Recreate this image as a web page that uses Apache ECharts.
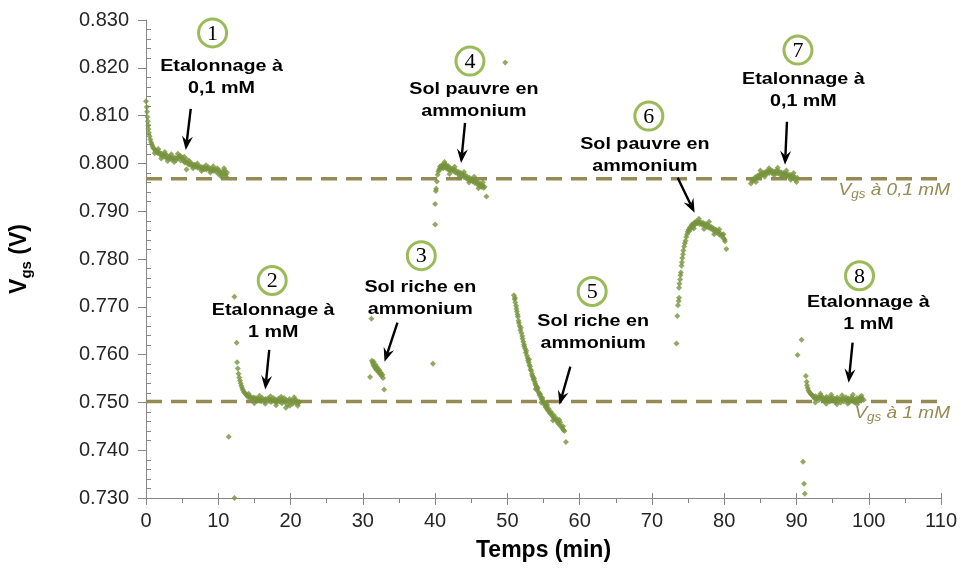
<!DOCTYPE html>
<html>
<head>
<meta charset="utf-8">
<script src="https://cdn.jsdelivr.net/npm/echarts@6/dist/echarts.min.js"></script>
<style>
  html, body { margin: 0; padding: 0; background: #ffffff; }
  #chart { width: 960px; height: 572px; }
</style>
</head>
<body>
<div id="chart"></div>
<script>
// Vgs (V) versus time (min), one array per measurement phase: [temps, vgs]
const etalonnage01A = [
  [0.0,0.8130],[0.1,0.8118],[0.15,0.8108],[0.2,0.8097],[0.25,0.8088],[0.3,0.8080],[0.35,0.8072],[0.4,0.8064],
  [0.5,0.8057],[0.6,0.8050],[0.7,0.8044],[0.8,0.8040],[0.9,0.8036],[1.0,0.8032],[1.15,0.8030],[1.3,0.8026],
  [1.45,0.8027],[1.6,0.8022],[1.75,0.8024],[1.9,0.8019],[2.05,0.8021],[2.2,0.8016],[2.35,0.8018],[2.5,0.8014],
  [2.65,0.8019],[2.8,0.8012],[2.95,0.8016],[3.1,0.8010],[3.25,0.8014],[3.4,0.8011],[3.55,0.8008],[3.7,0.8013],
  [3.85,0.8009],[4.0,0.8012],[4.15,0.8007],[4.3,0.8010],[4.45,0.8013],[4.6,0.8015],[4.75,0.8016],[4.9,0.8013],
  [5.05,0.8010],[5.2,0.8006],[5.35,0.8002],[5.5,0.8003],[5.6,0.7987],[5.65,0.8008],[5.8,0.8000],[5.95,0.7997],
  [6.1,0.8001],[6.25,0.7996],[6.4,0.7999],[6.55,0.7994],[6.7,0.7997],[6.85,0.7993],[7.0,0.7995],[7.15,0.7991],
  [7.3,0.7994],[7.45,0.7990],[7.6,0.7993],[7.75,0.7989],[7.9,0.7992],[8.05,0.7988],[8.2,0.7991],[8.35,0.7987],
  [8.5,0.7990],[8.65,0.7992],[8.8,0.7986],[8.95,0.7989],[9.1,0.7985],[9.25,0.7988],[9.4,0.7984],[9.55,0.7987],
  [9.7,0.7983],[9.85,0.7990],[10.0,0.7978],[10.15,0.7985],[10.3,0.7980],[10.45,0.7976],[10.6,0.7982],[10.75,0.7978],
  [10.9,0.7985],[11.05,0.7977],[11.2,0.7981],
  [1.2,0.8021],[1.7,0.8030],[2.1,0.8010],[2.6,0.8024],[3.0,0.8005],[3.5,0.8019],[3.9,0.8003],[4.4,0.8020],
  [4.8,0.8006],[5.3,0.8014],[6.0,0.8005],[6.5,0.7990],[7.1,0.8000],[7.7,0.7984],[8.3,0.7996],[8.9,0.7981],
  [9.3,0.7994],[9.9,0.7986],[10.4,0.7972],[10.8,0.7990],[11.1,0.7972]
];
const etalonnage1A = [
  [11.45,0.7428],[12.24,0.7300],[12.24,0.7721],[12.55,0.7625],[12.6,0.7584],[12.7,0.7571],[12.8,0.7560],[12.9,0.7552],
  [13.0,0.7546],[13.1,0.7540],[13.2,0.7535],[13.3,0.7530],[13.4,0.7526],[13.55,0.7522],[13.7,0.7519],[13.85,0.7516],
  [14.0,0.7514],[14.15,0.7511],[14.3,0.7513],[14.45,0.7509],[14.6,0.7511],[14.75,0.7507],[14.9,0.7510],[15.05,0.7506],
  [15.2,0.7509],[15.35,0.7505],[15.5,0.7508],[15.65,0.7504],[15.8,0.7507],[15.95,0.7503],[16.1,0.7509],[16.25,0.7505],
  [16.4,0.7502],[16.55,0.7507],[16.7,0.7504],[16.85,0.7508],[17.0,0.7503],[17.15,0.7506],[17.3,0.7501],[17.45,0.7505],
  [17.6,0.7509],[17.75,0.7503],[17.9,0.7506],[18.05,0.7500],[18.2,0.7504],[18.35,0.7508],[18.5,0.7502],[18.65,0.7506],
  [18.8,0.7498],[18.95,0.7504],[19.1,0.7509],[19.25,0.7501],[19.35,0.7489],[19.4,0.7505],[19.55,0.7495],[19.7,0.7503],
  [19.85,0.7507],[20.0,0.7500],[20.15,0.7504],[20.3,0.7497],[20.45,0.7502],[20.6,0.7506],[20.75,0.7499],[20.9,0.7503],
  [21.05,0.7498],[21.2,0.7501],
  [14.2,0.7518],[15.0,0.7498],[15.7,0.7514],[16.5,0.7497],[17.2,0.7513],[18.0,0.7494],[18.7,0.7512],[19.9,0.7493],
  [20.5,0.7511],[21.0,0.7493]
];
const solRiche1 = [
  [31.0,0.7553],[31.2,0.7675],[31.25,0.7587],[31.35,0.7583],[31.45,0.7578],[31.5,0.7585],[31.6,0.7575],[31.7,0.7572],
  [31.75,0.7579],[31.85,0.7569],[31.95,0.7574],[32.0,0.7566],[32.1,0.7570],[32.2,0.7563],[32.3,0.7567],[32.4,0.7559],
  [32.5,0.7562],[32.6,0.7555],[32.7,0.7558],[32.8,0.7551],[32.95,0.7527],[39.7,0.7581]
];
const solPauvre1 = [
  [40.0,0.7872],[40.0,0.7915],[40.1,0.7942],[40.15,0.7947],[40.25,0.7962],[40.35,0.7976],[40.45,0.7983],[40.55,0.7987],
  [40.65,0.7993],[40.75,0.7989],[40.85,0.7995],[40.95,0.7991],[41.05,0.7997],[41.15,0.7990],[41.25,0.7994],[41.35,0.7998],
  [41.45,0.7991],[41.55,0.7996],[41.65,0.7992],[41.75,0.7988],[41.85,0.7994],[41.95,0.7986],[42.05,0.7990],[42.2,0.7985],
  [42.35,0.7989],[42.5,0.7984],[42.65,0.7987],[42.8,0.7981],[42.95,0.7984],[43.1,0.7979],[43.25,0.7982],[43.4,0.7976],
  [43.55,0.7980],[43.7,0.7974],[43.85,0.7977],[44.0,0.7971],[44.15,0.7975],[44.3,0.7969],[44.45,0.7972],[44.6,0.7966],
  [44.75,0.7970],[44.9,0.7964],[45.05,0.7967],[45.2,0.7962],[45.35,0.7965],[45.5,0.7959],[45.65,0.7962],[45.8,0.7957],
  [45.95,0.7960],[46.1,0.7954],[46.25,0.7957],[46.4,0.7951],[46.55,0.7954],[46.7,0.7949],[46.85,0.7951],[47.1,0.7931],
  [41.3,0.8003],[42.0,0.7978],[42.7,0.7993],[43.3,0.7970],[44.0,0.7982],[44.7,0.7960],[45.4,0.7972],[46.0,0.7948],
  [46.6,0.7960],[49.7,0.8211]
];
const solRiche2 = [
  [50.9,0.7724],[51.0,0.7716],[51.05,0.7719],[51.1,0.7709],[51.2,0.7702],[51.25,0.7696],[51.3,0.7690],[51.4,0.7684],
  [51.45,0.7679],[51.55,0.7671],[51.6,0.7666],[51.7,0.7660],[51.8,0.7651],[51.85,0.7656],[51.95,0.7645],[52.05,0.7639],
  [52.1,0.7633],[52.2,0.7627],[52.3,0.7621],[52.35,0.7617],[52.45,0.7612],[52.55,0.7604],[52.6,0.7608],[52.7,0.7598],
  [52.8,0.7593],[52.85,0.7588],[52.95,0.7584],[53.05,0.7578],[53.15,0.7575],[53.2,0.7569],[53.3,0.7566],[53.4,0.7560],
  [53.45,0.7556],[53.55,0.7553],[53.6,0.7548],[53.7,0.7550],[53.8,0.7543],[53.85,0.7539],[53.95,0.7536],[54.05,0.7532],
  [54.1,0.7527],[54.2,0.7530],[54.3,0.7522],[54.4,0.7519],[54.45,0.7515],[54.55,0.7517],[54.65,0.7510],[54.75,0.7506],
  [54.85,0.7509],[54.95,0.7502],[55.05,0.7498],[55.1,0.7501],[55.2,0.7494],[55.3,0.7490],[55.4,0.7493],[55.5,0.7486],
  [55.6,0.7483],[55.7,0.7487],[55.85,0.7479],[55.95,0.7476],[56.05,0.7480],[56.2,0.7472],[56.35,0.7469],[56.45,0.7473],
  [56.6,0.7465],[56.75,0.7462],[56.85,0.7466],[57.0,0.7457],[57.15,0.7454],[57.3,0.7458],[57.45,0.7449],[57.6,0.7446],
  [57.75,0.7442],[57.9,0.7440],[58.1,0.7417],
  [53.0,0.7590],[53.9,0.7528],[54.7,0.7500],[55.5,0.7495],[56.3,0.7462],[57.2,0.7463],[57.7,0.7450]
];
const solPauvre2 = [
  [73.4,0.7623],[73.5,0.7681],[73.6,0.7703],[73.7,0.7712],[73.75,0.7719],[73.75,0.7740],[73.8,0.7748],[73.9,0.7757],
  [73.95,0.7766],[74.0,0.7772],[74.1,0.7786],[74.15,0.7793],[74.2,0.7802],[74.3,0.7810],[74.35,0.7818],[74.45,0.7826],
  [74.55,0.7833],[74.65,0.7838],[74.75,0.7846],[74.85,0.7852],[74.95,0.7857],[75.05,0.7861],[75.15,0.7858],[75.25,0.7866],
  [75.35,0.7863],[75.45,0.7869],[75.55,0.7872],[75.65,0.7867],[75.75,0.7874],[75.85,0.7871],[75.95,0.7877],[76.05,0.7873],
  [76.15,0.7879],[76.3,0.7875],[76.45,0.7878],[76.6,0.7873],[76.75,0.7877],[76.9,0.7872],[77.05,0.7876],[77.2,0.7870],
  [77.35,0.7874],[77.5,0.7868],[77.65,0.7872],[77.8,0.7866],[77.95,0.7869],[78.1,0.7864],[78.25,0.7867],[78.4,0.7861],
  [78.55,0.7864],[78.7,0.7858],[78.85,0.7861],[79.0,0.7855],[79.15,0.7858],[79.3,0.7851],[79.45,0.7854],[79.6,0.7848],
  [79.75,0.7850],[79.9,0.7844],[80.05,0.7841],[80.1,0.7837],[80.3,0.7821],
  [75.8,0.7864],[76.5,0.7884],[77.2,0.7863],[77.9,0.7878],[78.6,0.7852],[79.3,0.7862],[79.9,0.7852]
];
const etalonnage01B = [
  [83.7,0.7958],[83.85,0.7963],[84.0,0.7967],[84.15,0.7965],[84.3,0.7971],[84.45,0.7969],[84.6,0.7974],[84.75,0.7971],
  [84.9,0.7977],[85.05,0.7974],[85.2,0.7979],[85.35,0.7976],[85.5,0.7981],[85.65,0.7977],[85.8,0.7983],[85.95,0.7979],
  [86.1,0.7984],[86.25,0.7980],[86.4,0.7986],[86.55,0.7981],[86.7,0.7984],[86.85,0.7979],[87.0,0.7983],[87.15,0.7980],
  [87.3,0.7985],[87.45,0.7979],[87.6,0.7983],[87.75,0.7977],[87.9,0.7981],[88.05,0.7976],[88.2,0.7980],[88.35,0.7975],
  [88.5,0.7979],[88.65,0.7973],[88.8,0.7977],[88.95,0.7972],[89.1,0.7976],[89.25,0.7970],[89.4,0.7974],[89.55,0.7969],
  [89.7,0.7972],[89.85,0.7966],[90.0,0.7961],
  [84.4,0.7961],[85.0,0.7985],[85.6,0.7972],[86.2,0.7990],[86.9,0.7975],[87.4,0.7991],[88.0,0.7971],[88.6,0.7985],
  [89.2,0.7966],[89.6,0.7980],[90.1,0.7970]
];
const etalonnage1B = [
  [90.15,0.7599],[90.7,0.7631],[90.9,0.7376],[91.05,0.7330],[91.15,0.7309],[91.3,0.7555],[91.4,0.7543],[91.45,0.7536],
  [91.55,0.7530],[91.65,0.7525],[91.8,0.7521],[91.95,0.7518],[92.1,0.7516],[92.25,0.7514],[92.35,0.7512],[92.5,0.7508],
  [92.65,0.7513],[92.8,0.7507],[92.95,0.7511],[93.1,0.7505],[93.25,0.7510],[93.4,0.7514],[93.55,0.7506],[93.7,0.7509],
  [93.85,0.7503],[94.0,0.7508],[94.15,0.7512],[94.3,0.7505],[94.45,0.7509],[94.6,0.7502],[94.75,0.7507],[94.9,0.7511],
  [95.05,0.7504],[95.2,0.7508],[95.35,0.7501],[95.5,0.7506],[95.65,0.7510],[95.8,0.7503],[95.95,0.7507],[96.1,0.7500],
  [96.25,0.7505],[96.4,0.7509],[96.55,0.7502],[96.7,0.7506],[96.85,0.7511],[97.0,0.7504],[97.15,0.7508],[97.3,0.7501],
  [97.45,0.7506],[97.6,0.7510],[97.75,0.7503],[97.9,0.7507],[98.05,0.7500],[98.2,0.7505],[98.35,0.7509],[98.5,0.7502],
  [98.65,0.7507],[98.8,0.7511],[98.95,0.7504],[99.1,0.7508],[99.3,0.7505],
  [92.6,0.7500],[93.3,0.7518],[94.1,0.7497],[94.8,0.7516],[95.6,0.7496],[96.3,0.7515],[97.1,0.7497],[97.8,0.7516],
  [98.4,0.7496],[99.0,0.7514]
];

// Calibration reference levels (V)
const refLevels = [0.7968, 0.7502];
const refLabels = ['{i|V}{s|gs}{i| à 0,1 mM}', '{i|V}{s|gs}{i| à 1 mM}'];

// Numbered step annotations (ring, caption, arrow) placed in data coordinates
const stepNumbers = ['1', '2', '3', '4', '5', '6', '7', '8'];
const stepCaptions = [
  'Etalonnage à\n0,1 mM', 'Etalonnage à\n1 mM', 'Sol riche en\nammonium', 'Sol pauvre en\nammonium',
  'Sol riche en\nammonium', 'Sol pauvre en\nammonium', 'Etalonnage à\n0,1 mM', 'Etalonnage à\n1 mM'
];
const stepLayout = [
  { ring: [9.21, 0.8273],  text: [10.45, 0.8181], from: [6.19, 0.8114],  to: [5.50, 0.8028] },
  { ring: [17.46, 0.7755], text: [17.60, 0.7669], from: [17.05, 0.7610], to: [16.50, 0.7527] },
  { ring: [38.09, 0.7807], text: [37.95, 0.7717], from: [34.79, 0.7667], to: [33.00, 0.7585] },
  { ring: [44.82, 0.8214], text: [45.37, 0.8131], from: [44.14, 0.8085], to: [43.59, 0.8001] },
  { ring: [61.73, 0.7732], text: [61.87, 0.7646], from: [58.71, 0.7575], to: [57.20, 0.7495] },
  { ring: [69.57, 0.8099], text: [69.02, 0.8016], from: [73.56, 0.7970], to: [75.90, 0.7897] },
  { ring: [90.20, 0.8237], text: [90.95, 0.8152], from: [88.68, 0.8087], to: [88.41, 0.7997] },
  { ring: [98.72, 0.7765], text: [99.95, 0.7686], from: [97.76, 0.7625], to: [97.21, 0.7541] }
];

const GREEN = '#77933C';
const OLIVE = '#948A54';
const AXIS = '#868686';
const FONT = '"Liberation Sans", Arial, sans-serif';

const allPoints = [].concat(etalonnage01A, etalonnage1A, solRiche1, solPauvre1,
  solRiche2, solPauvre2, etalonnage01B, etalonnage1B);

const chart = echarts.init(document.getElementById('chart'), null, { renderer: 'canvas' });

const xBase = { type: 'value', min: 0, max: 110, interval: 10, position: 'bottom' };
const yBase = { type: 'value', min: 0.73, max: 0.83, interval: 0.01, position: 'left' };

chart.setOption({
  animation: false,
  backgroundColor: '#ffffff',
  grid: { left: 146, right: 14, top: 20, bottom: 74, containLabel: false },
  xAxis: [
    Object.assign({}, xBase, {
      name: 'Temps (min)',
      nameLocation: 'middle',
      nameGap: 41,
      nameTextStyle: { fontFamily: FONT, fontSize: 23, fontWeight: 'bold', color: '#000' },
      axisLine: { show: true, lineStyle: { color: AXIS, width: 1 } },
      axisTick: { show: true, inside: false, length: 7, lineStyle: { color: AXIS } },
      minorTick: { show: true, splitNumber: 2, length: 5, lineStyle: { color: AXIS } },
      axisLabel: { fontFamily: FONT, fontSize: 20, color: '#262626', margin: 13 },
      splitLine: { show: false }
    }),
    Object.assign({}, xBase, {
      axisLine: { show: false },
      axisTick: { show: true, inside: true, length: 5, lineStyle: { color: AXIS } },
      axisLabel: { show: false },
      splitLine: { show: false }
    })
  ],
  yAxis: [
    Object.assign({}, yBase, {
      name: '{a|V}{b|gs}{a| (V)}',
      nameLocation: 'middle',
      nameRotate: 90,
      nameGap: 112,
      nameTextStyle: {
        rich: {
          a: { fontFamily: FONT, fontSize: 23, fontWeight: 'bold', color: '#000', lineHeight: 28 },
          b: { fontFamily: FONT, fontSize: 15, fontWeight: 'bold', color: '#000', lineHeight: 13, verticalAlign: 'bottom' }
        }
      },
      axisLine: { show: true, lineStyle: { color: AXIS, width: 1 } },
      axisTick: { show: true, inside: false, length: 8, lineStyle: { color: AXIS } },
      axisLabel: {
        fontFamily: FONT, fontSize: 20, color: '#262626', margin: 17,
        formatter: v => v.toFixed(3)
      },
      splitLine: { show: false }
    }),
    Object.assign({}, yBase, {
      axisLine: { show: false },
      axisTick: { show: false, inside: true },
      minorTick: { show: true, splitNumber: 5, length: 5, lineStyle: { color: AXIS } },
      axisLabel: { show: false },
      splitLine: { show: false }
    })
  ],
  series: [
    {
      type: 'line',
      xAxisIndex: 0, yAxisIndex: 0,
      data: [[0, refLevels[0]], [111.3, refLevels[0]]],
      symbol: 'none', clip: false, silent: true, z: 1,
      lineStyle: { color: OLIVE, width: 3.5, type: [16, 9] }
    },
    {
      type: 'line',
      xAxisIndex: 0, yAxisIndex: 0,
      data: [[0, refLevels[1]], [111.3, refLevels[1]]],
      symbol: 'none', clip: false, silent: true, z: 1,
      lineStyle: { color: OLIVE, width: 3.5, type: [16, 9] }
    },
    {
      type: 'scatter',
      xAxisIndex: 0, yAxisIndex: 0,
      data: allPoints,
      symbol: 'diamond',
      symbolSize: 6,
      itemStyle: { color: GREEN },
      z: 3
    }
  ]
});

// Annotation layer: rings with step numbers, captions and arrows
function px(p) { return chart.convertToPixel({ xAxisIndex: 0, yAxisIndex: 0 }, p); }

function arrowParts(a, b) {
  const dx = b[0] - a[0], dy = b[1] - a[1];
  const len = Math.hypot(dx, dy);
  const ux = dx / len, uy = dy / len, nx = -uy, ny = ux;
  const L = 14, W = 5.5;
  const back = [b[0] - ux * L, b[1] - uy * L];
  const notch = [b[0] - ux * L * 0.65, b[1] - uy * L * 0.65];
  return [
    { type: 'line', z: 100, shape: { x1: a[0], y1: a[1], x2: notch[0], y2: notch[1] },
      style: { stroke: '#000', lineWidth: 2.4 } },
    { type: 'polygon', z: 100,
      shape: { points: [b, [back[0] + nx * W, back[1] + ny * W], notch, [back[0] - nx * W, back[1] - ny * W]] },
      style: { fill: '#000' } }
  ];
}

const elements = [];
stepLayout.forEach((s, i) => {
  const r = px(s.ring), t = px(s.text);
  elements.push({ type: 'circle', z: 100, shape: { cx: r[0], cy: r[1], r: 14 },
    style: { fill: '#ffffff', stroke: '#9BBB59', lineWidth: 3 } });
  elements.push({ type: 'text', z: 101, x: r[0], y: r[1] + 1,
    style: { text: stepNumbers[i], fontFamily: '"Liberation Serif", "Times New Roman", serif', fontSize: 22,
      fill: '#000', align: 'center', verticalAlign: 'middle', textAlign: 'center', textVerticalAlign: 'middle' } });
  elements.push({ type: 'text', z: 101, x: t[0], y: t[1], scaleX: 1.16,
    style: { text: stepCaptions[i], fontFamily: FONT, fontSize: 17, fontWeight: 'bold', lineHeight: 22,
      fill: '#000', align: 'center', verticalAlign: 'middle', textAlign: 'center', textVerticalAlign: 'middle' } });
  arrowParts(px(s.from), px(s.to)).forEach(e => elements.push(e));
});

refLevels.forEach((lv, i) => {
  const p = px([110, lv]);
  elements.push({ type: 'text', z: 101, x: p[0] + 9, y: p[1] + 12, scaleX: 1.12,
    style: {
      text: refLabels[i], align: 'right', verticalAlign: 'middle', textAlign: 'right', textVerticalAlign: 'middle',
      rich: {
        i: { fontFamily: FONT, fontSize: 17, fontStyle: 'italic', fill: OLIVE, lineHeight: 20 },
        s: { fontFamily: FONT, fontSize: 12, fontStyle: 'italic', fill: OLIVE, lineHeight: 10, verticalAlign: 'bottom' }
      }
    } });
});

chart.setOption({ graphic: { elements: elements } });
</script>
</body>
</html>
